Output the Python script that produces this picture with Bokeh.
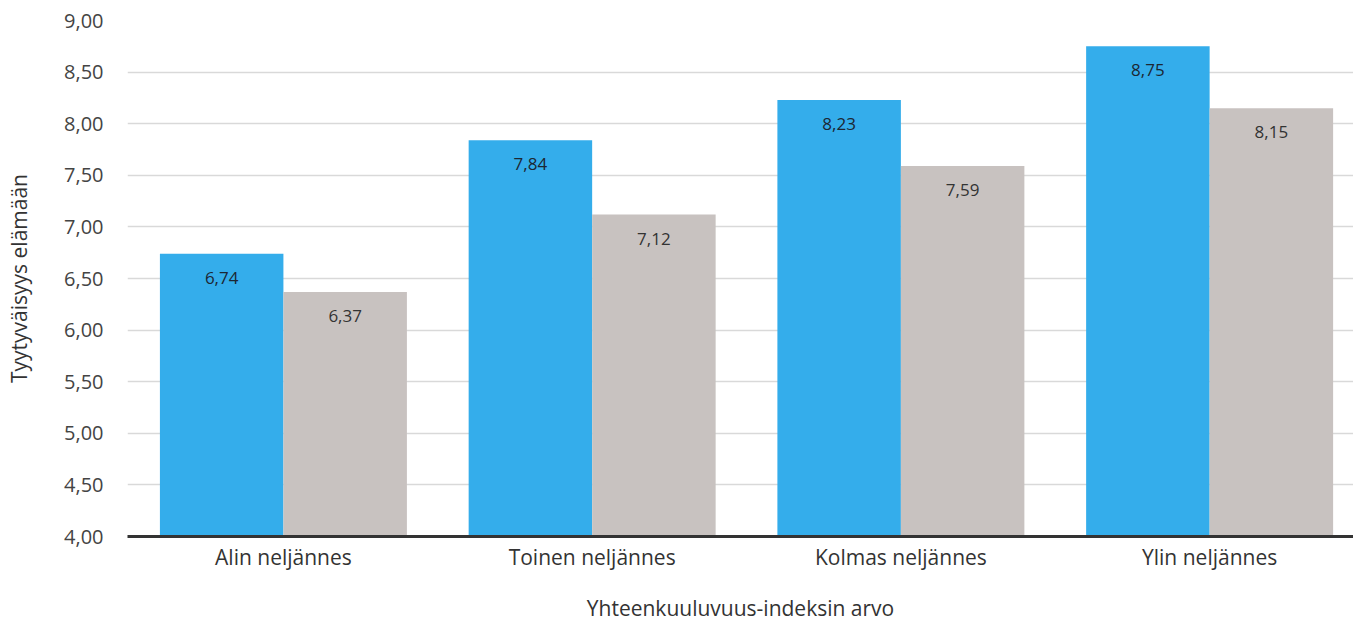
from bokeh.plotting import figure
from bokeh.models import ColumnDataSource, FixedTicker, Range1d
from bokeh.core.properties import value
from bokeh.embed import file_html
from bokeh.resources import INLINE

categories = ["Alin neljännes", "Toinen neljännes", "Kolmas neljännes", "Ylin neljännes"]
series_blue = [6.74, 7.84, 8.23, 8.75]
series_gray = [6.37, 7.12, 7.59, 8.15]
y_ticks = [4.0, 4.5, 5.0, 5.5, 6.0, 6.5, 7.0, 7.5, 8.0, 8.5, 9.0]
y_tick_labels = ["4,00", "4,50", "5,00", "5,50", "6,00", "6,50", "7,00", "7,50", "8,00", "8,50", "9,00"]
x_title = "Yhteenkuuluvuus-indeksin arvo"
y_title = "Tyytyväisyys elämään"

FONT = "Open Sans"
BLUE = "#34adeb"
GRAY = "#c8c2c0"

idx = list(range(len(categories)))

def fmt(v):
    return f"{v:.2f}".replace(".", ",")

src_b = ColumnDataSource(dict(x=[i - 0.2 for i in idx], top=series_blue,
                              lab=[fmt(v) for v in series_blue]))
src_g = ColumnDataSource(dict(x=[i + 0.2 for i in idx], top=series_gray,
                              lab=[fmt(v) for v in series_gray]))

p = figure(width=1353, height=624, output_backend="svg", toolbar_location=None,
           x_range=Range1d(-0.505, 3.466), y_range=Range1d(4.0, 9.0),
           min_border_left=127, min_border_right=0, min_border_top=20, min_border_bottom=86)
p.outline_line_color = None
p.background_fill_color = "white"

p.vbar(x="x", top="top", bottom=4.0, width=0.4, source=src_b, color=BLUE, line_color=None)
p.vbar(x="x", top="top", bottom=4.0, width=0.4, source=src_g, color=GRAY, line_color=None)

p.text(x="x", y="top", text="lab", source=src_b, text_align="center", text_baseline="middle",
       y_offset=24, text_font=value(FONT), text_font_size="17px", text_color="#1c2733")
p.text(x="x", y="top", text="lab", source=src_g, text_align="center", text_baseline="middle",
       y_offset=24, text_font=value(FONT), text_font_size="17px", text_color="#333333")

# x axis
p.xaxis.ticker = FixedTicker(ticks=idx)
p.xaxis.major_label_overrides = {i: c for i, c in zip(idx, categories)}
p.xaxis.major_tick_line_color = None
p.xaxis.minor_tick_line_color = None
p.xaxis.axis_line_color = "#333333"
p.xaxis.axis_line_width = 3
p.xaxis.major_label_text_font = FONT
p.xaxis.major_label_text_font_size = "21px"
p.xaxis.major_label_text_color = "#333333"
p.xaxis.major_label_standoff = 0
p.xaxis.axis_label = x_title
p.xaxis.axis_label_text_font = FONT
p.xaxis.axis_label_text_font_size = "21px"
p.xaxis.axis_label_text_font_style = "normal"
p.xaxis.axis_label_text_color = "#333333"
p.xaxis.axis_label_standoff = 20

# y axis
p.yaxis.ticker = FixedTicker(ticks=y_ticks)
p.yaxis.major_label_overrides = {t: l for t, l in zip(y_ticks, y_tick_labels)}
p.yaxis.axis_line_color = None
p.yaxis.major_tick_line_color = None
p.yaxis.minor_tick_line_color = None
p.yaxis.major_label_text_font = FONT
p.yaxis.major_label_text_font_size = "20px"
p.yaxis.major_label_text_color = "#444444"
p.yaxis.major_label_standoff = 18
p.yaxis.axis_label = y_title
p.yaxis.axis_label_text_font = FONT
p.yaxis.axis_label_text_font_size = "21px"
p.yaxis.axis_label_text_font_style = "normal"
p.yaxis.axis_label_text_color = "#333333"
p.yaxis.axis_label_standoff = 28

p.xgrid.grid_line_color = None
p.ygrid.grid_line_color = "#d9d9d9"
p.ygrid.grid_line_width = 1.5
p.ygrid.level = "underlay"

open("out.html", "w").write(file_html(p, INLINE))
